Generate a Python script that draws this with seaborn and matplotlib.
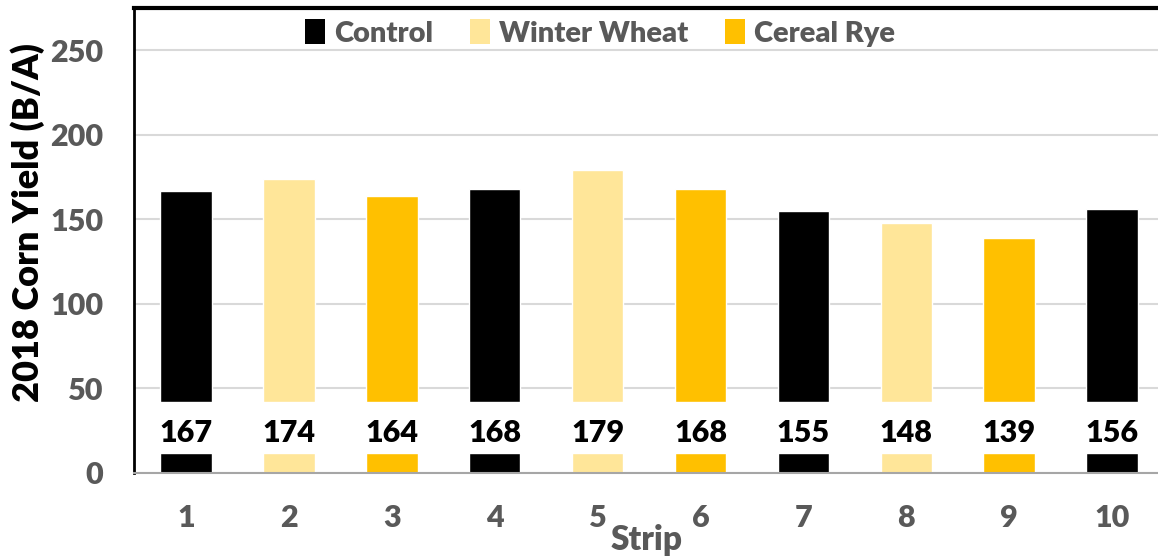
import pandas as pd
import matplotlib
matplotlib.use("Agg")
import matplotlib.pyplot as plt
from matplotlib.patches import Patch
import seaborn as sns

# data
strips = ["1", "2", "3", "4", "5", "6", "7", "8", "9", "10"]
treatments = ["Control", "Winter Wheat", "Cereal Rye", "Control", "Winter Wheat",
              "Cereal Rye", "Control", "Winter Wheat", "Cereal Rye", "Control"]
yields = [167, 174, 164, 168, 179, 168, 155, 148, 139, 156]

legend_order = ["Control", "Winter Wheat", "Cereal Rye"]
colors = {"Control": "#000000", "Winter Wheat": "#FFE699", "Cereal Rye": "#FFC000"}

df = pd.DataFrame({"Strip": strips, "Treatment": treatments, "Yield": yields})

sns.set_theme(style="white")
plt.rcParams["font.family"] = ["Lato", "DejaVu Sans"]
plt.rcParams["font.weight"] = "bold"

GRAY = "#595959"

fig = plt.figure(figsize=(11.58, 5.59), dpi=100)
ax = fig.add_axes([134 / 1158, 1 - 473 / 559, 1 - 134 / 1158, (473 - 8) / 559])

sns.barplot(data=df, x="Strip", y="Yield", hue="Treatment", order=strips,
            palette=colors, dodge=False, width=0.5, saturation=1,
            legend=False, ax=ax, zorder=2)

# white label band over the bars, value labels inside it
band_lo, band_hi = 12, 42
ax.bar(range(len(strips)), band_hi - band_lo, bottom=band_lo, width=0.62,
       color="white", zorder=3)
for i, v in enumerate(yields):
    ax.text(i, band_lo + 6.5, str(v), ha="center", va="baseline",
            fontsize=22, fontweight="heavy", color="black", zorder=4)

ax.set_ylim(0, 275)
ax.set_xlim(-0.505, 9.446)
ax.set_yticks([0, 50, 100, 150, 200, 250])
ax.yaxis.grid(True, color="#D9D9D9", linewidth=1.5, zorder=0)
ax.set_axisbelow(True)

ax.tick_params(axis="both", length=0, labelsize=22, labelcolor=GRAY, pad=22)
for lbl in ax.get_xticklabels() + ax.get_yticklabels():
    lbl.set_fontweight("heavy")

ax.set_xlabel("")
ax.set_ylabel("")
fig.text(28 / 1158, 1 - 223 / 559, "2018 Corn Yield (B/A)", rotation=90,
         ha="center", va="center", fontsize=26, fontweight="heavy", color="black")
fig.text(647 / 1158, 1 - 540 / 559, "Strip", ha="center", va="center",
         fontsize=24, fontweight="heavy", color=GRAY)

ax.spines["left"].set_color("black")
ax.spines["left"].set_linewidth(2)
ax.spines["top"].set_color("black")
ax.spines["top"].set_linewidth(3)
ax.spines["bottom"].set_color("#A6A6A6")
ax.spines["bottom"].set_linewidth(1.5)
ax.spines["right"].set_visible(False)

handles = [Patch(facecolor=colors[t], edgecolor="none") for t in legend_order]
leg = fig.legend(handles, legend_order, loc="center", ncol=3,
                 bbox_to_anchor=(0.518, 1 - 33 / 559), frameon=False,
                 fontsize=21, handlelength=0.7, handleheight=0.9,
                 handletextpad=0.3, columnspacing=1.25)
for t in leg.get_texts():
    t.set_color(GRAY)
    t.set_fontweight("heavy")

fig.savefig("out.png", dpi=100)
